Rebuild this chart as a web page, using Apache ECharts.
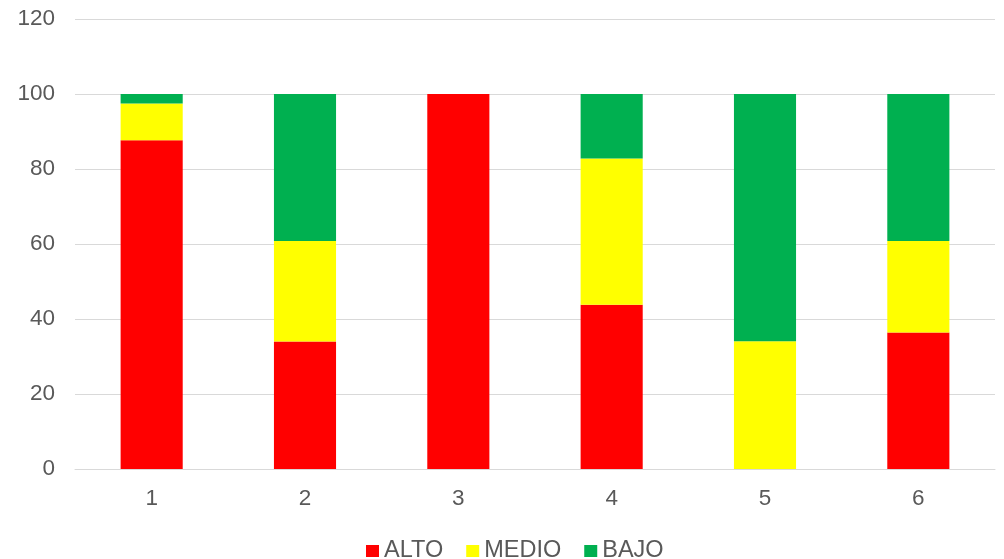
<!DOCTYPE html>
<html>
<head>
<meta charset="utf-8">
<script src="https://cdn.jsdelivr.net/npm/echarts@6/dist/echarts.min.js"></script>
<style>
  html, body { margin: 0; padding: 0; background: #ffffff; }
  #chart { width: 1004px; height: 559px; }
</style>
</head>
<body>
<div id="chart"></div>
<script>
// Categories along the x axis
const categories = ['1', '2', '3', '4', '5', '6'];
// Stacked shares per category (percent)
const alto  = [87.7, 34.0, 100, 43.8, 0, 36.4];
const medio = [9.8, 26.8, 0, 39.0, 34.1, 24.4];
const bajo  = [2.5, 39.2, 0, 17.2, 65.9, 39.2];

const seriesNames = ['ALTO', 'MEDIO', 'BAJO'];
const seriesColors = ['#ff0000', '#ffff00', '#00b050'];
const seriesData = [alto, medio, bajo];

const chart = echarts.init(document.getElementById('chart'), null, { renderer: 'canvas' });

chart.setOption({
  animation: false,
  textStyle: { fontFamily: 'Liberation Sans, Arial, sans-serif' },
  grid: { left: 75, right: 9, top: 19, bottom: 90, containLabel: false },
  legend: {
    top: 539,
    left: 366,
    padding: 0,
    itemWidth: 13,
    itemHeight: 12,
    itemGap: 23,
    icon: 'rect',
    textStyle: { color: '#595959', fontSize: 23.5 },
    data: seriesNames
  },
  xAxis: {
    type: 'category',
    data: categories,
    axisLine: { lineStyle: { color: '#d9d9d9', width: 1 } },
    axisTick: { show: false },
    axisLabel: { color: '#595959', fontSize: 22.5, margin: 18 }
  },
  yAxis: {
    type: 'value',
    min: 0,
    max: 120,
    interval: 20,
    axisLine: { show: false },
    axisTick: { show: false },
    axisLabel: { color: '#595959', fontSize: 22.5, margin: 20 },
    splitLine: { lineStyle: { color: '#d9d9d9', width: 1 } }
  },
  series: seriesNames.map((name, i) => ({
    name: name,
    type: 'bar',
    stack: 'total',
    barWidth: '40.5%',
    itemStyle: { color: seriesColors[i] },
    data: seriesData[i]
  }))
});
</script>
</body>
</html>
